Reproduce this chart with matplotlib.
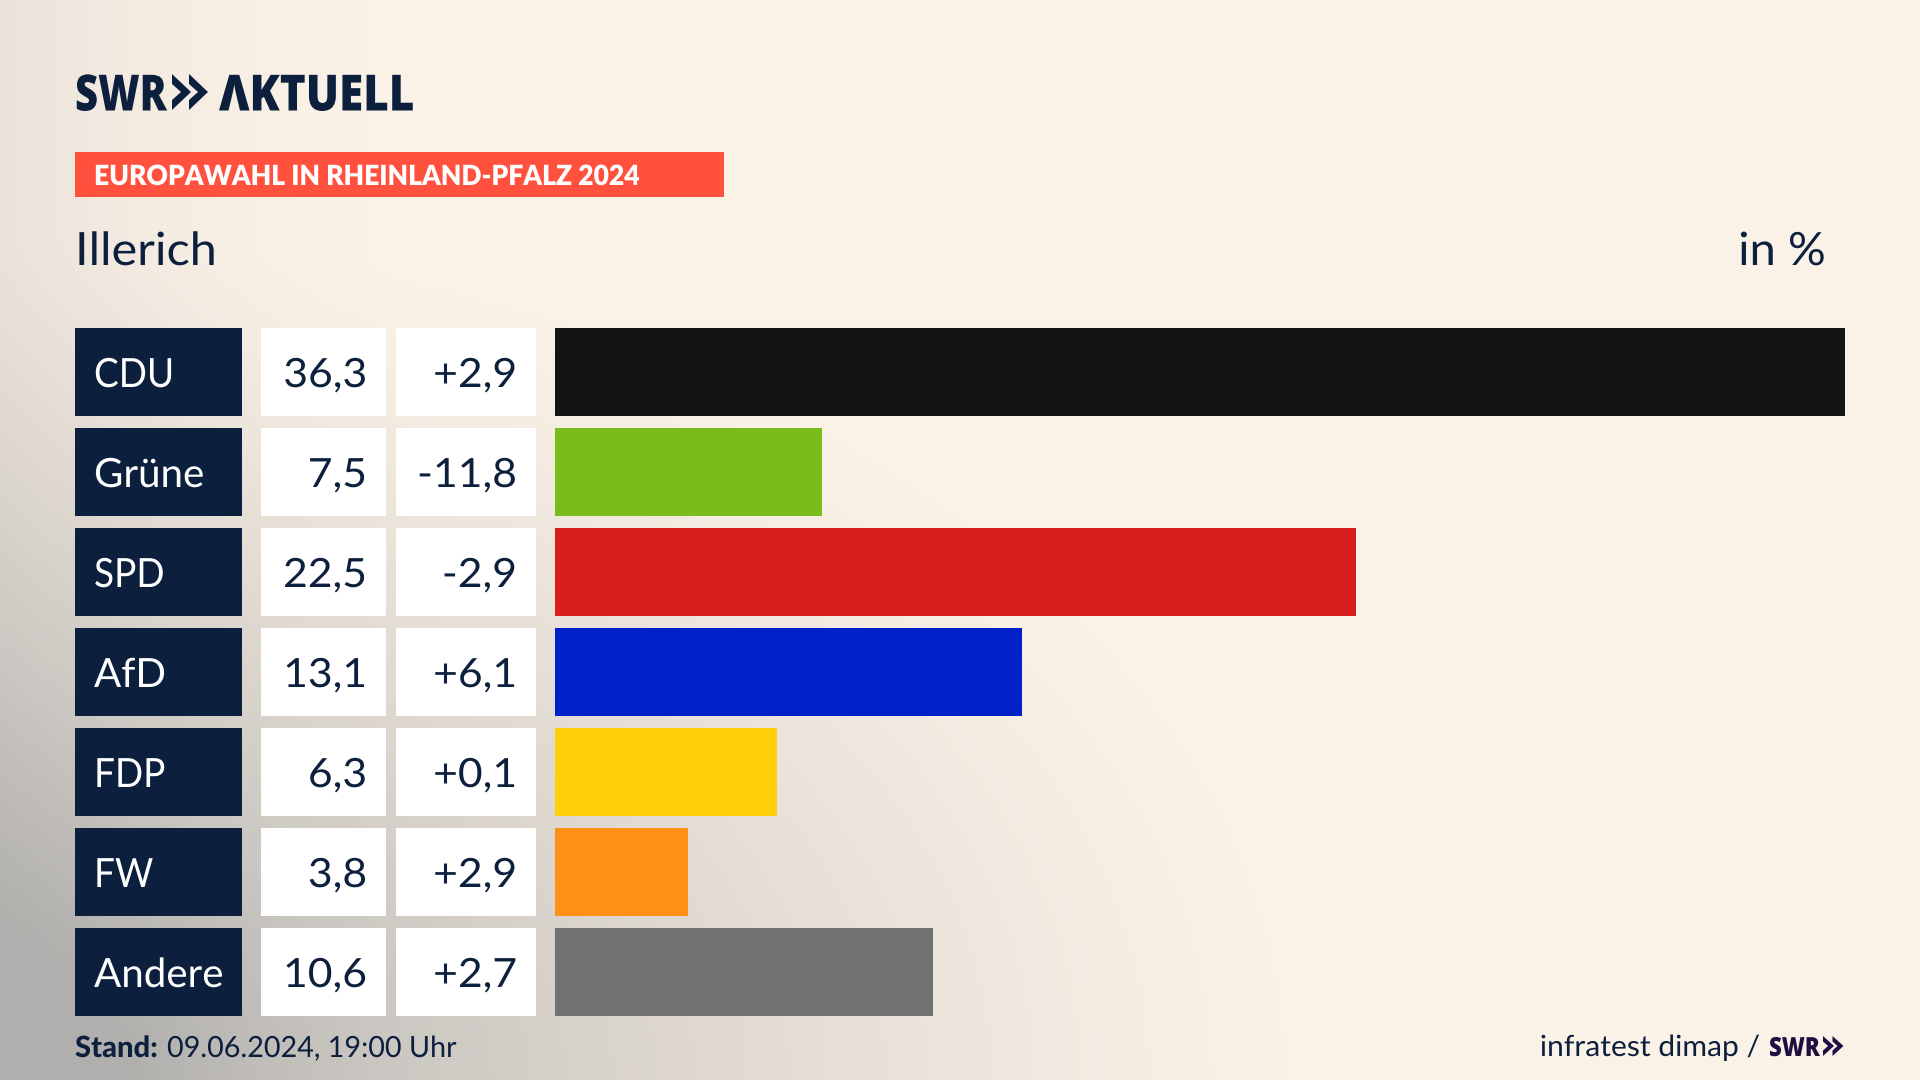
# coding : utf8

import numpy as np
import matplotlib
matplotlib.use("Agg")
import matplotlib.pyplot as plt
from matplotlib.colors import LinearSegmentedColormap
from matplotlib.patches import Rectangle, Polygon
from matplotlib.patheffects import AbstractPathEffect
from matplotlib.transforms import Affine2D

parties = ["CDU", "Grüne", "SPD", "AfD", "FDP", "FW", "Andere"]
share_labels = ["36,3", "7,5", "22,5", "13,1", "6,3", "3,8", "10,6"]
change_labels = ["+2,9", "-11,8", "-2,9", "+6,1", "+0,1", "+2,9", "+2,7"]
# bar lengths as measured, they are not cut to one decimal like the labels
shares = [36.3, 7.5, 22.53, 13.15, 6.24, 3.75, 10.64]
colors = ["#141414", "#7abd1a", "#d81f1d", "#0021c8", "#ffcf0a", "#ff8f17", "#717274"]

NAVY = "#0c1f3d"
PURPLE = "#1e0f42"
FONT = "Lato"
LOGO = "Open Sans"

plt.rcParams["font.family"] = [FONT, "DejaVu Sans"]


class Stretch(AbstractPathEffect):
    # scales a text horizontally around x0, no condensed font is installed
    def __init__(self, x0, sx):
        super().__init__()
        self.x0 = x0
        self.sx = sx

    def draw_path(self, renderer, gc, tpath, affine, rgbFace=None):
        squeeze = Affine2D().translate(-self.x0, 0).scale(self.sx, 1).translate(self.x0, 0)
        renderer.draw_path(gc, tpath, affine + squeeze, rgbFace)


def put_text(x, y, s, size, sx=1.0, color=NAVY, ha="left", **kw):
    t = bg.text(x, y, s, color=color, fontsize=size, ha=ha, va="baseline", zorder=3, **kw)
    t.set_path_effects([Stretch(x, sx)])
    return t


def chevrons(x0, top, bottom, w, step, notch, cut, color):
    mid = (top + bottom) / 2
    for x in (x0, x0 + step):
        bg.add_patch(Polygon([[x, top], [x + w, mid], [x, bottom], [x, bottom - cut], [x + notch, mid], [x, top + cut]],
                             facecolor=color, linewidth=0, zorder=3))


def box(x, y, w, h, color):
    bg.add_patch(Rectangle((x, y), w, h, facecolor=color, linewidth=0, zorder=2))


fig = plt.figure(figsize=(19.2, 10.8), dpi=100)

# background, in pixel coords over the whole figure
bg = fig.add_axes([0, 0, 1, 1])
bg.set_xlim(0, 1920)
bg.set_ylim(1080, 0)
bg.axis("off")
xx, yy = np.meshgrid(np.linspace(0, 1920, 480), np.linspace(0, 1080, 270))
shade = np.clip(1 - np.hypot(xx / 1300, (1080 - yy) / 850), 0, 1) ** 1.25
edge = np.clip(1 - xx / 420, 0, 1) ** 2 * 0.22
cmap = LinearSegmentedColormap.from_list("bg", ["#fbf2e7", "#b0afad"])
bg.imshow(np.clip(shade + edge, 0, 1), extent=(0, 1920, 1080, 0), cmap=cmap,
          vmin=0, vmax=1, aspect="auto", zorder=0)

# logo
put_text(75, 110.5, "SWR", 36, sx=0.8, family=LOGO, weight=800)
chevrons(172, 74, 110, 19, 17, 9, 10, NAVY)
put_text(219, 110.5, "ΛKTUELL", 36, sx=0.88, family=LOGO, weight=800)

# header
box(75, 152, 649, 45, "#ff513d")
put_text(94, 185, "EUROPAWAHL IN RHEINLAND-PFALZ 2024", 20, sx=0.953, color="white", weight=800)
put_text(75, 265, "Illerich", 33, sx=1.06)
put_text(1826, 265, "in %", 33, sx=1.03, ha="right")

# rows
row_h = 88
for i, name in enumerate(parties):
    top = 328 + 100 * i
    base = top + 59
    box(75, top, 166.5, row_h, NAVY)
    box(260.7, top, 125, row_h, "white")
    box(396.4, top, 139.3, row_h, "white")
    put_text(94, base, name, 29, sx=0.92 if name.isupper() else 1.0, color="white")
    put_text(367, base, share_labels[i], 29, sx=1.06, ha="right")
    put_text(517, base, change_labels[i], 29, sx=1.06, ha="right")

# bars get their own axes, x in percent
ax = fig.add_axes([555 / 1920, 1 - 1022 / 1080, 1290 / 1920, 700 / 1080])
ax.patch.set_alpha(0)
ax.barh(range(len(parties)), shares, height=0.88, color=colors, linewidth=0)
ax.set_xlim(0, 36.3)
ax.set_ylim(6.5, -0.5)
ax.axis("off")

# footer
put_text(75, 1057, "Stand:", 21, weight=900)
put_text(167, 1057, "09.06.2024, 19:00 Uhr", 21, sx=0.985)
put_text(1760, 1056, "infratest dimap /", 21, sx=1.03, ha="right")
put_text(1769, 1056, "SWR", 19, sx=0.84, color=PURPLE, family=LOGO, weight=800)
chevrons(1823, 1036, 1056, 11, 9.5, 5, 5.5, PURPLE)

fig.savefig("out.png", dpi=100)
